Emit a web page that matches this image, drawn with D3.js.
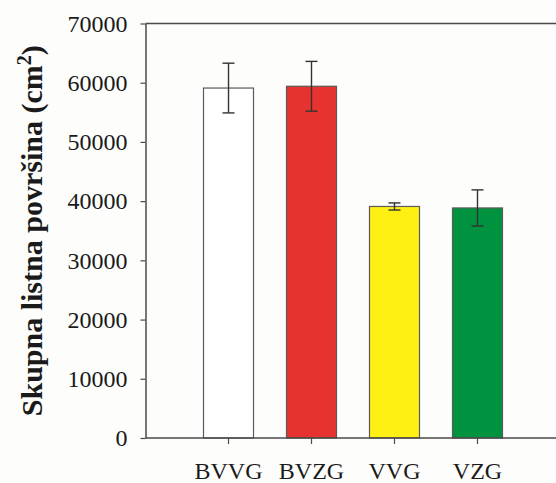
<!DOCTYPE html>
<html>
<head>
<meta charset="utf-8">
<script src="https://cdn.jsdelivr.net/npm/d3@7"></script>
<style>
  html, body { margin: 0; padding: 0; background: #fdfdfb; }
  svg { display: block; }
  text { font-family: "Liberation Serif", "Times New Roman", serif; fill: #1a1a1a; }
</style>
</head>
<body>
<svg id="chart" width="556" height="483"></svg>
<script>
// Leaf area per treatment (mean ± error)
const categories = ["BVVG", "BVZG", "VVG", "VZG"];
const means = [59100, 59400, 39100, 38850];
const errors = [4200, 4200, 600, 3050];
const fills = ["#ffffff", "#e63330", "#fff014", "#00933f"];
const yTicks = [0, 10000, 20000, 30000, 40000, 50000, 60000, 70000];

const svg = d3.select("#chart");
const plotLeft = 145.5, plotRight = 560.5, plotTop = 23.5, plotBottom = 438;

const x = d3.scaleBand()
  .domain(categories)
  .range([plotLeft, plotRight])
  .paddingInner(0.3976)
  .paddingOuter(0.699);

const y = d3.scaleLinear().domain([0, 70000]).range([plotBottom, plotTop]);

// Frame: top border line
svg.append("line")
  .attr("x1", plotLeft).attr("x2", 556)
  .attr("y1", plotTop).attr("y2", plotTop)
  .attr("stroke", "#4a4a4a").attr("stroke-width", 1.5);

// Bars
svg.selectAll("rect.bar")
  .data(categories)
  .join("rect")
  .attr("class", "bar")
  .attr("x", d => x(d))
  .attr("width", x.bandwidth())
  .attr("y", (d, i) => y(means[i]))
  .attr("height", (d, i) => y(0) - y(means[i]))
  .attr("fill", (d, i) => fills[i])
  .attr("stroke", "#5a5a5a")
  .attr("stroke-width", 1.2);

// Error bars
const eg = svg.append("g").attr("stroke", "#333").attr("stroke-width", 1.4);
categories.forEach((c, i) => {
  const cx = x(c) + x.bandwidth() / 2;
  const hi = y(means[i] + errors[i]), lo = y(means[i] - errors[i]);
  eg.append("line").attr("x1", cx).attr("x2", cx).attr("y1", hi).attr("y2", lo);
  eg.append("line").attr("x1", cx - 6).attr("x2", cx + 6).attr("y1", hi).attr("y2", hi);
  eg.append("line").attr("x1", cx - 6).attr("x2", cx + 6).attr("y1", lo).attr("y2", lo);
});

// Y axis
const yAxis = svg.append("g")
  .attr("transform", `translate(${plotLeft},0)`)
  .call(d3.axisLeft(y).tickValues(yTicks).tickSize(5).tickSizeOuter(0).tickPadding(13).tickFormat(d3.format("d")));
yAxis.select(".domain").attr("stroke", "#4a4a4a").attr("stroke-width", 1.5);
yAxis.selectAll(".tick line").attr("stroke", "#4a4a4a").attr("stroke-width", 1.2);
yAxis.selectAll(".tick text")
  .attr("font-size", 24)
  .attr("font-family", "Liberation Serif, Times New Roman, serif")
  .attr("fill", "#1a1a1a");

// X axis
const xAxis = svg.append("g")
  .attr("transform", `translate(0,${plotBottom})`)
  .call(d3.axisBottom(x).tickSize(6).tickSizeOuter(0).tickPadding(18));
xAxis.select(".domain").attr("d", `M${plotLeft},0H556`).attr("stroke", "#4a4a4a").attr("stroke-width", 1.5);
xAxis.selectAll(".tick line").attr("stroke", "#4a4a4a").attr("stroke-width", 1.2);
xAxis.selectAll(".tick text")
  .attr("font-size", 24)
  .attr("font-family", "Liberation Serif, Times New Roman, serif")
  .attr("fill", "#1a1a1a");

// Y axis title with superscript
const title = svg.append("text")
  .attr("transform", `translate(42,${(plotTop + plotBottom) / 2}) rotate(-90)`)
  .attr("text-anchor", "middle")
  .attr("font-size", 30)
  .attr("font-weight", "bold");
title.append("tspan").text("Skupna listna površina (cm");
title.append("tspan").attr("font-size", 20).attr("dy", -11).text("2");
title.append("tspan").attr("dy", 11).text(")");
</script>
</body>
</html>
